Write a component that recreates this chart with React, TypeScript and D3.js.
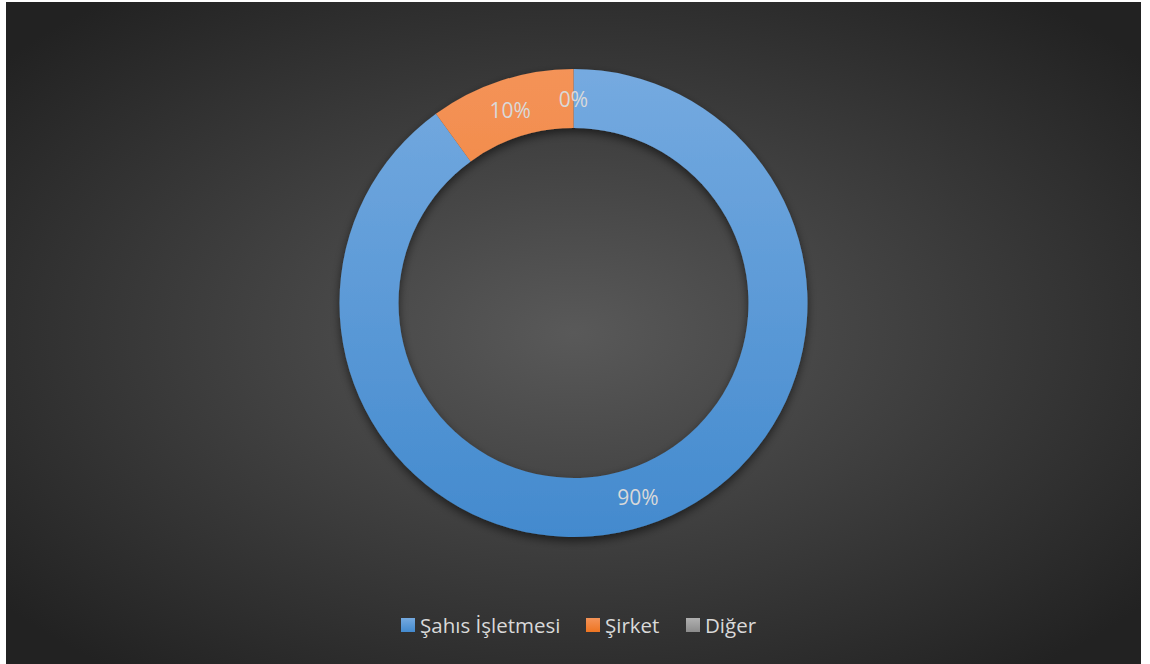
import { useEffect, useRef } from "react";
import * as d3 from "d3";

const categories = ["Şahıs İşletmesi", "Şirket", "Diğer"];
const values = [90, 10, 0];
const labels = ["90%", "10%", "0%"];
const colors = [
  ["#75aae0", "#438ace"],
  ["#f49358", "#ee7522"],
  ["#b0b0b0", "#8c8c8c"],
];

const W = 1150;
const H = 664;

export default function App() {
  const svgRef = useRef<SVGSVGElement | null>(null);

  useEffect(() => {
    if (!svgRef.current) return;
    const svg = d3.select(svgRef.current);
    svg.selectAll("*").remove();

    const defs = svg.append("defs");
    const bg = defs.append("radialGradient").attr("id", "bg")
      .attr("cx", "50%").attr("cy", "50%").attr("r", "65%");
    bg.append("stop").attr("offset", "0%").attr("stop-color", "#595959");
    bg.append("stop").attr("offset", "100%").attr("stop-color", "#222222");

    colors.forEach((c, i) => {
      const g = defs.append("linearGradient").attr("id", `g${i}`)
        .attr("gradientUnits", "userSpaceOnUse")
        .attr("x1", 0).attr("y1", -234).attr("x2", 0).attr("y2", 234);
      g.append("stop").attr("offset", "0%").attr("stop-color", c[0]);
      g.append("stop").attr("offset", "100%").attr("stop-color", c[1]);
    });

    const sh = defs.append("filter").attr("id", "sh")
      .attr("x", "-20%").attr("y", "-20%").attr("width", "140%").attr("height", "140%");
    sh.append("feDropShadow").attr("dx", 0).attr("dy", 4).attr("stdDeviation", 5)
      .attr("flood-color", "#000").attr("flood-opacity", 0.55);

    svg.append("rect").attr("x", 6).attr("y", 2).attr("width", 1135).attr("height", 662)
      .attr("fill", "url(#bg)");

    const cx = 573.5, cy = 303;
    const outer = 234, inner = 175;
    const pie = d3.pie<number>().sort(null).value(d => d);
    const arcs = pie(values);
    const arc = d3.arc<d3.PieArcDatum<number>>().innerRadius(inner).outerRadius(outer);

    const g = svg.append("g").attr("transform", `translate(${cx},${cy})`);
    g.append("g").attr("filter", "url(#sh)")
      .selectAll("path").data(arcs).enter().append("path")
      .attr("d", d => arc(d) as string)
      .attr("fill", (_, i) => `url(#g${i})`);

    const font = "'Open Sans', Lato, sans-serif";
    const labelArc = d3.arc<d3.PieArcDatum<number>>().innerRadius(inner + 4).outerRadius(outer + 4);
    const nudge = [[0, -4], [1, 6], [0, 5]];
    g.selectAll("text.lbl").data(arcs).enter().append("text")
      .attr("class", "lbl")
      .attr("transform", (d, i) => {
        const [x, y] = labelArc.centroid(d);
        return `translate(${x + nudge[i][0]},${y + nudge[i][1]})`;
      })
      .attr("text-anchor", "middle").attr("dy", "0.35em")
      .attr("font-family", font).attr("font-size", 21)
      .attr("fill", "#d9d9d9")
      .text((_, i) => labels[i]);

    // legend
    const legX = [401, 586, 686];
    const lg = svg.append("g");
    categories.forEach((c, i) => {
      const lgr = defs.append("linearGradient").attr("id", `lg${i}`)
        .attr("x1", 0).attr("y1", 0).attr("x2", 0).attr("y2", 1);
      lgr.append("stop").attr("offset", "0%").attr("stop-color", colors[i][0]);
      lgr.append("stop").attr("offset", "100%").attr("stop-color", colors[i][1]);
      lg.append("rect").attr("x", legX[i]).attr("y", 618).attr("width", 14).attr("height", 14)
        .attr("fill", `url(#lg${i})`);
      lg.append("text").attr("x", legX[i] + 19).attr("y", 633)
        .attr("font-family", font).attr("font-size", 20.5)
        .attr("fill", "#d9d9d9").text(c);
    });
  }, []);

  return (
    <div style={{ position: "absolute", left: 0, top: 0 }}>
      <svg ref={svgRef} width={W} height={H} style={{ display: "block", background: "#fff" }} />
    </div>
  );
}
